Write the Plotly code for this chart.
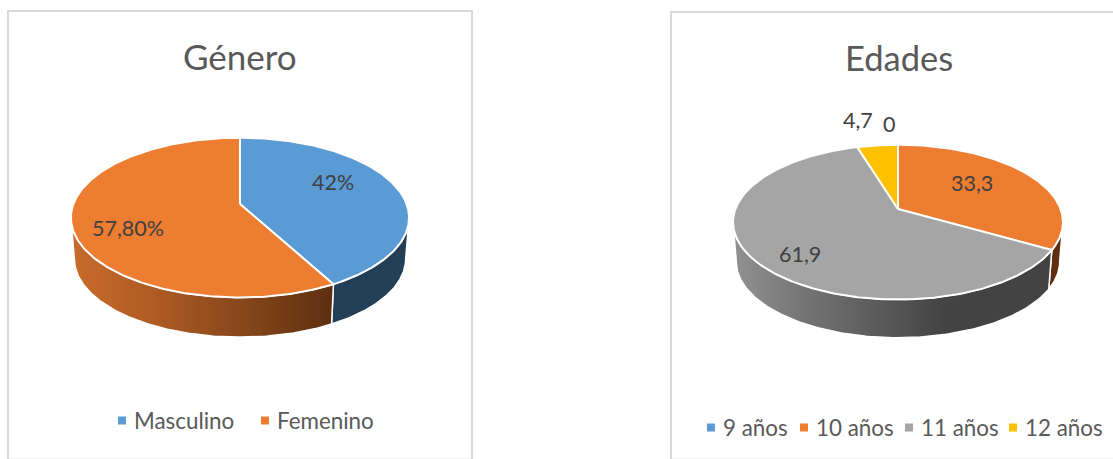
import numpy as np
import plotly.graph_objects as go

# Survey results shown as two tilted pies
genero_cats = ["Masculino", "Femenino"]
genero_vals = [42, 57.8]
genero_labels = ["42%", "57,80%"]

edades_cats = ["9 años", "10 años", "11 años", "12 años"]
edades_vals = [0, 33.3, 61.9, 4.7]
edades_labels = ["0", "33,3", "61,9", "4,7"]

BLUE, ORANGE, GREY, GOLD = "#5b9bd5", "#ec7d31", "#a5a5a5", "#ffc000"
TEXT = "#595959"
LABEL = "#404040"
FONT = "Lato, Carlito, Calibri, sans-serif"

W, H = 1113, 459


def project(pie, theta, lower=False):
    """Perspective projection of a rim point; theta runs clockwise from twelve o'clock."""
    u, v = np.sin(theta), np.cos(theta)
    d = 1 + pie["k"] * v
    x, y = pie["b"] * u / d, -pie["a"] * v / d
    if lower:
        return pie["cx"] + x * pie["shrink"], pie["cy"] + pie["drop"] + y * pie["shrink"]
    return pie["cx"] + x, pie["cy"] + y


def add_pie(fig, pie, values, colors, wall_fills):
    shares = np.array(values, dtype=float) / sum(values)
    edges = np.concatenate([[0], np.cumsum(shares)]) * 2 * np.pi
    front_a = np.arccos(-pie["k"])
    front_b = 2 * np.pi - front_a

    # Side walls come first so that the top face covers their upper rim
    for i, fill in enumerate(wall_fills):
        t0, t1 = max(edges[i], front_a), min(edges[i + 1], front_b)
        if fill is None or t1 <= t0:
            continue
        t = np.linspace(t0, t1, 140)
        xt, yt = project(pie, t)
        xb, yb = project(pie, t[::-1], lower=True)
        fig.add_trace(go.Scatter(
            x=np.r_[xt, xb, xt[0]], y=np.r_[yt, yb, yt[0]],
            mode="lines", fill="toself", fillgradient=dict(
                type="horizontal", colorscale=fill["scale"],
                start=fill["start"], stop=fill["stop"]),
            line=dict(color="white", width=1.5),
            hoverinfo="skip", showlegend=False))

    # Top face slices
    for i, color in enumerate(colors):
        if shares[i] == 0:
            continue
        t = np.linspace(edges[i], edges[i + 1], 240)
        x, y = project(pie, t)
        fig.add_trace(go.Scatter(
            x=np.r_[pie["cx"], x, pie["cx"]], y=np.r_[pie["cy"], y, pie["cy"]],
            mode="lines", fill="toself", fillcolor=color,
            line=dict(color="white", width=2),
            hoverinfo="skip", showlegend=False))


def flat(color):
    return dict(scale=[[0, color], [1, color]], start=0, stop=W)


fig = go.Figure()

pie_genero = dict(cx=240, cy=204, a=77.6, b=166.6, k=0.17, drop=41.5, shrink=0.98)
pie_edades = dict(cx=898, cy=209, a=75.2, b=162.6, k=0.169, drop=40, shrink=0.98)

add_pie(fig, pie_genero, genero_vals, [BLUE, ORANGE], [
    flat("#233f56"),
    dict(scale=[[0, "#c76a2b"], [0.3, "#b05c24"], [0.65, "#86471b"], [1, "#5e2f10"]],
         start=75, stop=332),
])
add_pie(fig, pie_edades, edades_vals, [BLUE, ORANGE, GREY, GOLD], [
    None,
    flat("#5e2f10"),
    dict(scale=[[0, "#8f8f8f"], [0.35, "#727272"], [0.7, "#595959"], [1, "#434343"]],
         start=738, stop=945),
    None,
])

annotations = [
    dict(x=240, y=56, text="Género", xanchor="center", font=dict(size=35, color=TEXT, family=FONT)),
    dict(x=899, y=57, text="Edades", xanchor="center", font=dict(size=34.5, color=TEXT, family=FONT)),
]
label_xy = {
    "42%": (333, 182), "57,80%": (128, 228),
    "0": (889, 124), "33,3": (972, 183), "61,9": (800, 254), "4,7": (858, 120),
}
for text in genero_labels + edades_labels:
    x, y = label_xy[text]
    annotations.append(dict(x=x, y=y, text=text, xanchor="center",
                            font=dict(size=21.5, color=LABEL, family=FONT)))

# Legend rows: square key followed by its category name
legend_rows = [
    (genero_cats, [BLUE, ORANGE], [122, 265], 420.5),
    (edades_cats, [BLUE, ORANGE, GREY, GOLD], [711, 804, 909, 1013], 427.5),
]
for names, colors, keys, row_y in legend_rows:
    fig.add_trace(go.Scatter(
        x=keys, y=[row_y] * len(keys), mode="markers", hoverinfo="skip", showlegend=False,
        marker=dict(symbol="square", size=8, color=colors)))
    for name, key in zip(names, keys):
        annotations.append(dict(x=key + 10, y=row_y, text=name, xanchor="left",
                                font=dict(size=22.4, color=TEXT, family=FONT)))

for a in annotations:
    a.update(xref="x", yref="y", showarrow=False, yanchor="middle")

# Chart frames run off the page at the bottom; only a faint rule closes them
frame = dict(type="rect", xref="x", yref="y", line=dict(color="#d9d9d9", width=2), layer="below")
rule = dict(type="line", xref="x", yref="y", line=dict(color="#f2f2f2", width=1), layer="below")

fig.update_layout(
    width=W, height=H, margin=dict(l=0, r=0, t=0, b=0, autoexpand=False),
    paper_bgcolor="white", plot_bgcolor="white", showlegend=False,
    xaxis=dict(range=[0, W], visible=False, fixedrange=True),
    yaxis=dict(range=[H, 0], visible=False, fixedrange=True),
    annotations=annotations,
    shapes=[dict(x0=8, y0=11, x1=472, y1=475, **frame),
            dict(x0=671, y0=12, x1=1125, y1=475, **frame),
            dict(x0=9, y0=458, x1=471, y1=458, **rule),
            dict(x0=672, y0=458, x1=1113, y1=458, **rule)],
)

fig.write_html("out.html")
